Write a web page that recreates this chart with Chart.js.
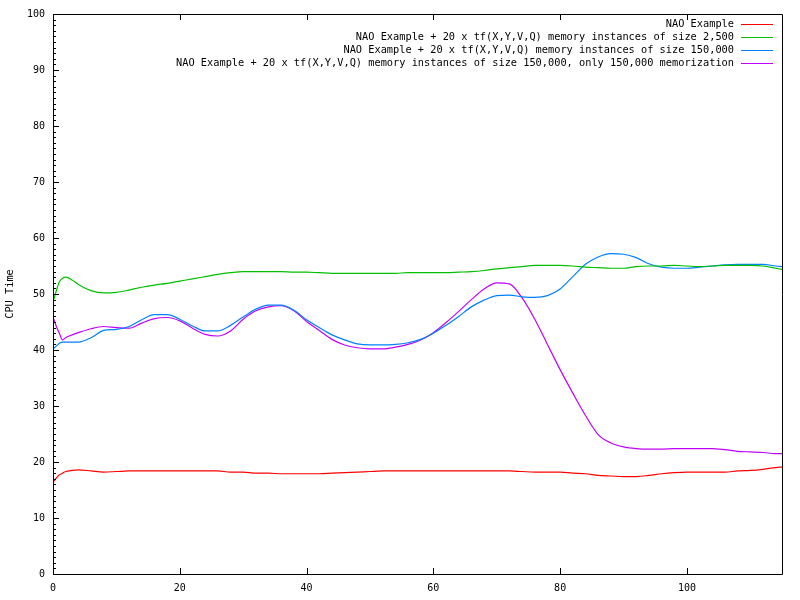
<!DOCTYPE html>
<html>
<head>
<meta charset="utf-8">
<script src="https://cdn.jsdelivr.net/npm/chart.js@4.4.1/dist/chart.umd.min.js"></script>
<style>
  html, body { margin: 0; padding: 0; background: #fff; }
  #wrap { width: 800px; height: 600px; }
</style>
</head>
<body>
<div id="wrap"><canvas id="myChart"></canvas></div>
<script>
const xs = [0, 0.5, 1, 1.5, 2, 3, 4, 6, 8, 10, 12, 14, 16, 18, 20, 22, 24, 26, 28, 30,
  32, 34, 36, 38, 40, 42, 44, 46, 48, 50, 52, 54, 56, 58, 60, 62, 64, 66, 68, 70,
  72, 74, 76, 78, 80, 82, 84, 86, 88, 90, 92, 94, 96, 98, 100, 102, 104, 106, 108, 110,
  112, 114, 115];

const nao = [16.4, 17.1, 17.7, 18.0, 18.3, 18.5, 18.6, 18.4, 18.2, 18.3, 18.4, 18.4, 18.4, 18.4, 18.4, 18.4, 18.4, 18.4, 18.2, 18.2,
  18.0, 18.0, 17.9, 17.9, 17.9, 17.9, 18.0, 18.1, 18.2, 18.3, 18.4, 18.4, 18.4, 18.4, 18.4, 18.4, 18.4, 18.4, 18.4, 18.4,
  18.4, 18.3, 18.2, 18.2, 18.2, 18.0, 17.9, 17.6, 17.5, 17.4, 17.4, 17.6, 17.9, 18.1, 18.2, 18.2, 18.2, 18.2, 18.4, 18.5,
  18.7, 19.0, 19.1];

const mem2500 = [48.6, 50.5, 52.2, 52.8, 53.0, 52.5, 51.7, 50.6, 50.2, 50.3, 50.7, 51.2, 51.6, 51.9, 52.3, 52.7, 53.1, 53.5, 53.8, 54.0,
  54.0, 54.0, 54.0, 53.9, 53.9, 53.8, 53.7, 53.7, 53.7, 53.7, 53.7, 53.7, 53.8, 53.8, 53.8, 53.8, 53.9, 54.0, 54.2, 54.5,
  54.7, 54.9, 55.1, 55.1, 55.1, 55.0, 54.8, 54.7, 54.6, 54.6, 54.9, 55.0, 55.0, 55.1, 55.0, 54.9, 55.0, 55.1, 55.1, 55.1,
  55.0, 54.6, 54.4];

const mem150k = [40.2, 40.7, 41.2, 41.4, 41.4, 41.4, 41.4, 42.2, 43.5, 43.7, 44.2, 45.4, 46.3, 46.3, 45.5, 44.3, 43.4, 43.4, 44.4, 45.9,
  47.3, 48.0, 48.0, 47.1, 45.4, 44.0, 42.7, 41.8, 41.1, 40.9, 40.9, 41.0, 41.3, 41.9, 43.0, 44.4, 46.0, 47.7, 48.9, 49.7,
  49.8, 49.5, 49.4, 49.7, 50.9, 53.1, 55.3, 56.6, 57.2, 57.1, 56.5, 55.4, 54.8, 54.6, 54.6, 54.8, 55.0, 55.2, 55.3, 55.3,
  55.3, 55.0, 54.9];

const mem150kOnly = [45.9, 44.3, 43.0, 41.8, 42.2, 42.7, 43.1, 43.8, 44.2, 44.0, 43.9, 44.8, 45.6, 45.8, 45.2, 43.9, 42.8, 42.5, 43.4, 45.5,
  47.0, 47.7, 47.9, 47.0, 45.1, 43.5, 41.9, 40.9, 40.4, 40.2, 40.2, 40.5, 41.0, 41.8, 43.1, 44.9, 46.9, 49.0, 50.9, 52.0,
  51.8, 49.3, 45.5, 41.0, 36.5, 32.3, 28.3, 24.9, 23.4, 22.7, 22.4, 22.3, 22.3, 22.4, 22.4, 22.4, 22.4, 22.2, 21.9, 21.8,
  21.7, 21.5, 21.5];

const labels = [
  "NAO Example",
  "NAO Example + 20 x tf(X,Y,V,Q) memory instances of size 2,500",
  "NAO Example + 20 x tf(X,Y,V,Q) memory instances of size 150,000",
  "NAO Example + 20 x tf(X,Y,V,Q) memory instances of size 150,000, only 150,000 memorization"
];
const colors = ["#ff0000", "#00c000", "#0080ff", "#c000ff"];
const series = [nao, mem2500, mem150k, mem150kOnly];
const xTicks = [0, 20, 40, 60, 80, 100];

const FONT = "'DejaVu Sans Mono', 'Liberation Mono', monospace";

const toPoints = function (vals) {
  return vals.map((v, i) => ({ x: xs[i], y: v }));
};

const data = {
  datasets: series.map((vals, i) => ({
    label: labels[i],
    data: toPoints(vals),
    borderColor: colors[i],
    backgroundColor: colors[i],
    borderWidth: 1.2,
    pointRadius: 0,
    cubicInterpolationMode: "monotone",
    fill: false
  }))
};

// gnuplot style frame, inward ticks and key
const gnuplotFrame = {
  id: "gnuplotFrame",
  afterDraw(chart) {
    const ctx = chart.ctx;
    const a = chart.chartArea;
    const xS = chart.scales.x;
    const yS = chart.scales.y;
    ctx.save();
    ctx.strokeStyle = "#000";
    ctx.lineWidth = 1;
    ctx.beginPath();
    ctx.rect(Math.round(a.left) + 0.5, Math.round(a.top) + 0.5,
      Math.round(a.right - a.left), Math.round(a.bottom - a.top));
    for (let v = 0; v <= 100; v += 1) {
      const y = Math.round(yS.getPixelForValue(v)) + 0.5;
      const len = v % 10 === 0 ? 6 : 3;
      ctx.moveTo(a.left, y);
      ctx.lineTo(a.left + len, y);
    }
    xTicks.forEach((v) => {
      const x = Math.round(xS.getPixelForValue(v)) + 0.5;
      ctx.moveTo(x, a.bottom);
      ctx.lineTo(x, a.bottom - 6);
      ctx.moveTo(x, a.top);
      ctx.lineTo(x, a.top + 6);
    });
    ctx.stroke();

    ctx.font = "10.3px " + FONT;
    ctx.textAlign = "right";
    ctx.textBaseline = "middle";
    chart.data.datasets.forEach((ds, i) => {
      const y = 24.5 + i * 13;
      ctx.fillStyle = "#000";
      ctx.fillText(ds.label, 734, y);
      ctx.strokeStyle = ds.borderColor;
      ctx.beginPath();
      ctx.moveTo(741, y);
      ctx.lineTo(773, y);
      ctx.stroke();
    });
    ctx.restore();
  }
};

const config = {
  type: "line",
  data: data,
  options: {
    responsive: true,
    maintainAspectRatio: false,
    animation: false,
    layout: { padding: { left: 0, right: 18, top: 14, bottom: 0 } },
    plugins: {
      legend: { display: false },
      tooltip: { enabled: false }
    },
    scales: {
      x: {
        type: "linear",
        min: 0,
        max: 115,
        grid: { display: false, drawTicks: false },
        border: { display: false },
        afterBuildTicks: (s) => { s.ticks = xTicks.map((v) => ({ value: v })); },
        ticks: {
          padding: 8,
          maxRotation: 0,
          autoSkip: false,
          color: "#000",
          font: { family: FONT, size: 10 }
        },
        afterFit: (s) => { s.height = 26; }
      },
      y: {
        min: 0,
        max: 100,
        grid: { display: false, drawTicks: false },
        border: { display: false },
        ticks: {
          stepSize: 10,
          padding: 8,
          color: "#000",
          font: { family: FONT, size: 10 }
        },
        title: {
          display: true,
          text: "CPU Time",
          color: "#000",
          padding: { top: 4, bottom: 0 },
          font: { family: FONT, size: 10.3 }
        },
        afterFit: (s) => { s.width = 53; }
      }
    }
  },
  plugins: [gnuplotFrame]
};

const myChart = new Chart(document.getElementById("myChart"), config);
</script>
</body>
</html>
